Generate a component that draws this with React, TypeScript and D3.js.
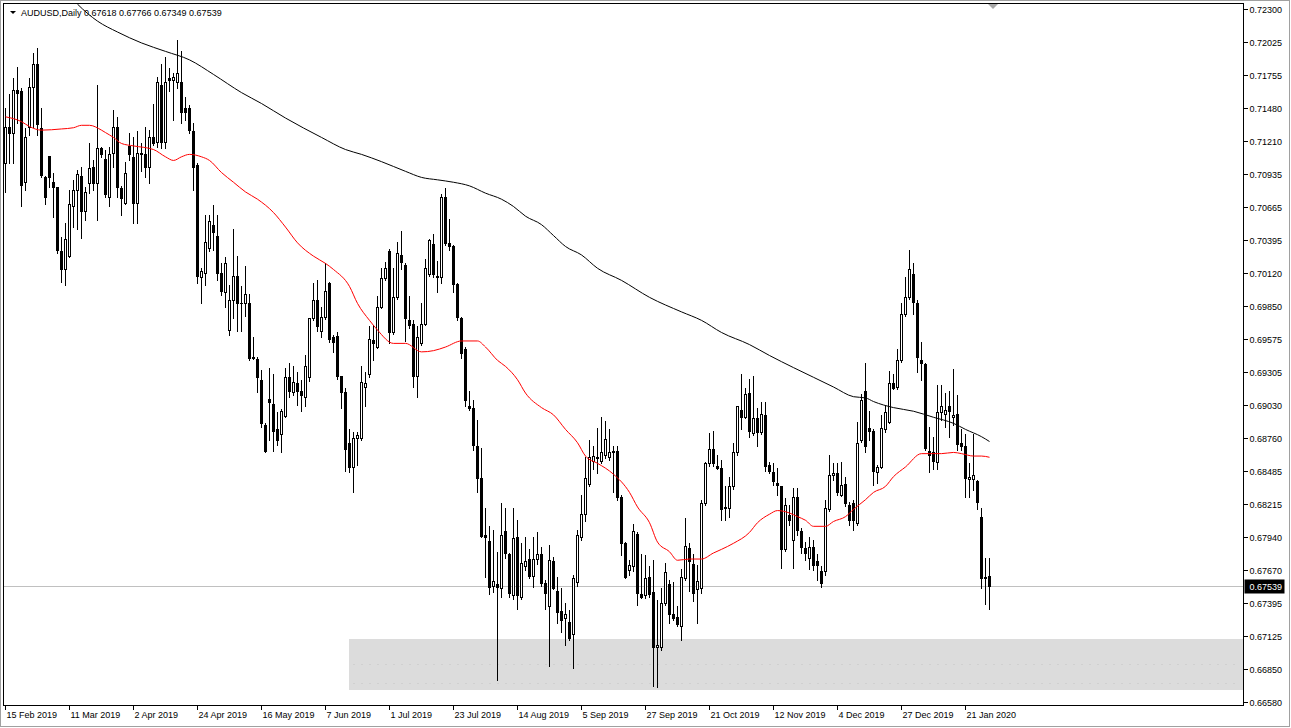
import { useEffect, useRef } from "react";
import * as d3 from "d3";

// AUDUSD daily candles, [open, high, low, close], one per trading day from 15 Feb 2019
const candles: [number, number, number, number][] = [
  [0.7103, 0.7148, 0.7079, 0.7133], [0.7133, 0.7160, 0.7103, 0.7128], [0.7128, 0.7173, 0.7103, 0.7163], [0.7163, 0.7182, 0.7136, 0.7161],
  [0.7162, 0.7165, 0.7067, 0.7085], [0.7087, 0.7132, 0.7081, 0.7124], [0.7133, 0.7173, 0.7126, 0.7166], [0.7166, 0.7194, 0.7133, 0.7185],
  [0.7185, 0.7198, 0.7126, 0.7135], [0.7132, 0.7148, 0.7091, 0.7093], [0.7091, 0.7092, 0.7069, 0.7075], [0.7109, 0.7109, 0.7083, 0.7091],
  [0.7087, 0.7095, 0.7058, 0.7083], [0.7083, 0.7083, 0.7029, 0.7031], [0.7030, 0.7042, 0.7005, 0.7015], [0.7015, 0.7053, 0.7002, 0.7040],
  [0.7026, 0.7081, 0.7025, 0.7069], [0.7067, 0.7089, 0.7050, 0.7081], [0.7081, 0.7097, 0.7048, 0.7094], [0.7092, 0.7100, 0.7041, 0.7063],
  [0.7063, 0.7083, 0.7056, 0.7079], [0.7086, 0.7119, 0.7078, 0.7099], [0.7100, 0.7105, 0.7081, 0.7086], [0.7086, 0.7167, 0.7056, 0.7115],
  [0.7115, 0.7116, 0.7108, 0.7110], [0.7106, 0.7114, 0.7075, 0.7077], [0.7075, 0.7116, 0.7067, 0.7110], [0.7111, 0.7147, 0.7100, 0.7133],
  [0.7133, 0.7141, 0.7075, 0.7083], [0.7082, 0.7084, 0.7060, 0.7074], [0.7070, 0.7104, 0.7069, 0.7095], [0.7117, 0.7128, 0.7105, 0.7110],
  [0.7108, 0.7124, 0.7053, 0.7070], [0.7070, 0.7129, 0.7053, 0.7111], [0.7111, 0.7119, 0.7096, 0.7110], [0.7110, 0.7133, 0.7091, 0.7100],
  [0.7100, 0.7130, 0.7086, 0.7124], [0.7124, 0.7152, 0.7118, 0.7119], [0.7120, 0.7174, 0.7116, 0.7170], [0.7167, 0.7185, 0.7115, 0.7120],
  [0.7120, 0.7190, 0.7115, 0.7170], [0.7173, 0.7181, 0.7162, 0.7171], [0.7171, 0.7177, 0.7138, 0.7174], [0.7170, 0.7204, 0.7165, 0.7177],
  [0.7170, 0.7195, 0.7136, 0.7145], [0.7148, 0.7157, 0.7138, 0.7145], [0.7148, 0.7151, 0.7128, 0.7130], [0.7129, 0.7136, 0.7081, 0.7100],
  [0.7101, 0.7103, 0.7004, 0.7010], [0.7009, 0.7016, 0.6987, 0.7014], [0.7012, 0.7060, 0.7002, 0.7038], [0.7033, 0.7060, 0.7030, 0.7055],
  [0.7052, 0.7068, 0.7031, 0.7046], [0.7043, 0.7060, 0.7006, 0.7012], [0.7012, 0.7020, 0.6994, 0.6997], [0.6996, 0.7025, 0.6984, 0.7020],
  [0.6965, 0.7002, 0.6961, 0.6990], [0.6990, 0.7048, 0.6975, 0.7010], [0.7010, 0.7026, 0.6964, 0.6987], [0.6987, 0.7001, 0.6964, 0.6987],
  [0.6987, 0.7018, 0.6977, 0.6995], [0.6987, 0.6995, 0.6940, 0.6942], [0.6943, 0.6959, 0.6941, 0.6942], [0.6941, 0.6943, 0.6914, 0.6926],
  [0.6924, 0.6932, 0.6885, 0.6888], [0.6887, 0.6888, 0.6864, 0.6865], [0.6908, 0.6934, 0.6874, 0.6906], [0.6904, 0.6929, 0.6865, 0.6882],
  [0.6883, 0.6897, 0.6870, 0.6874], [0.6879, 0.6900, 0.6864, 0.6898], [0.6894, 0.6934, 0.6893, 0.6926], [0.6926, 0.6938, 0.6910, 0.6915],
  [0.6914, 0.6935, 0.6911, 0.6922], [0.6921, 0.6930, 0.6903, 0.6915], [0.6915, 0.6924, 0.6898, 0.6911], [0.6910, 0.6944, 0.6902, 0.6935],
  [0.6926, 0.6975, 0.6923, 0.6975], [0.6975, 0.7004, 0.6973, 0.6990], [0.6990, 0.7006, 0.6964, 0.6968], [0.6964, 0.6984, 0.6959, 0.6976],
  [0.6976, 0.7020, 0.6974, 0.6997], [0.7004, 0.7005, 0.6955, 0.6958], [0.6959, 0.6961, 0.6947, 0.6955], [0.6960, 0.6963, 0.6925, 0.6927],
  [0.6927, 0.6927, 0.6901, 0.6914], [0.6914, 0.6917, 0.6849, 0.6867], [0.6872, 0.6883, 0.6848, 0.6852], [0.6852, 0.6881, 0.6831, 0.6876],
  [0.6876, 0.6881, 0.6854, 0.6878], [0.6876, 0.6935, 0.6874, 0.6922], [0.6918, 0.6930, 0.6902, 0.6921], [0.6929, 0.6968, 0.6926, 0.6958],
  [0.6957, 0.6969, 0.6940, 0.6954], [0.6951, 0.6993, 0.6950, 0.6984], [0.6984, 0.7016, 0.6983, 0.7008], [0.7008, 0.7021, 0.7006, 0.7016],
  [0.7030, 0.7032, 0.6954, 0.6963], [0.6963, 0.7016, 0.6962, 0.6992], [0.6992, 0.7038, 0.6991, 0.7029], [0.7027, 0.7047, 0.7015, 0.7021],
  [0.7019, 0.7020, 0.6956, 0.6975], [0.6973, 0.6993, 0.6967, 0.6969], [0.6970, 0.6973, 0.6918, 0.6927], [0.6927, 0.6968, 0.6910, 0.6959],
  [0.6954, 0.6987, 0.6953, 0.6970], [0.6970, 0.7024, 0.6969, 0.7016], [0.7011, 0.7040, 0.7010, 0.7039], [0.7036, 0.7044, 0.7009, 0.7011],
  [0.7010, 0.7022, 0.6996, 0.7009], [0.7009, 0.7077, 0.7004, 0.7075], [0.7075, 0.7082, 0.7035, 0.7037], [0.7037, 0.7057, 0.7031, 0.7034],
  [0.7034, 0.7035, 0.6996, 0.7003], [0.7003, 0.7004, 0.6973, 0.6976], [0.6975, 0.6976, 0.6942, 0.6946], [0.6949, 0.6951, 0.6902, 0.6907],
  [0.6902, 0.6915, 0.6899, 0.6901], [0.6901, 0.6907, 0.6866, 0.6870], [0.6869, 0.6891, 0.6831, 0.6843], [0.6843, 0.6868, 0.6794, 0.6795],
  [0.6796, 0.6818, 0.6761, 0.6794], [0.6791, 0.6803, 0.6747, 0.6753], [0.6754, 0.6800, 0.6749, 0.6758], [0.6755, 0.6782, 0.6676, 0.6753],
  [0.6752, 0.6822, 0.6745, 0.6796], [0.6799, 0.6818, 0.6777, 0.6781], [0.6780, 0.6781, 0.6745, 0.6748], [0.6746, 0.6818, 0.6743, 0.6793],
  [0.6794, 0.6808, 0.6735, 0.6746], [0.6745, 0.6789, 0.6743, 0.6773], [0.6770, 0.6794, 0.6767, 0.6774], [0.6776, 0.6784, 0.6760, 0.6762],
  [0.6762, 0.6794, 0.6753, 0.6776], [0.6776, 0.6798, 0.6772, 0.6780], [0.6780, 0.6786, 0.6754, 0.6756], [0.6756, 0.6759, 0.6735, 0.6748],
  [0.6737, 0.6788, 0.6688, 0.6775], [0.6774, 0.6778, 0.6751, 0.6752], [0.6750, 0.6761, 0.6723, 0.6732], [0.6733, 0.6752, 0.6716, 0.6726],
  [0.6727, 0.6740, 0.6705, 0.6731], [0.6724, 0.6734, 0.6709, 0.6711], [0.6714, 0.6763, 0.6686, 0.6760], [0.6757, 0.6800, 0.6754, 0.6796],
  [0.6794, 0.6829, 0.6792, 0.6813], [0.6813, 0.6860, 0.6807, 0.6843], [0.6838, 0.6874, 0.6836, 0.6860], [0.6857, 0.6869, 0.6850, 0.6861],
  [0.6860, 0.6884, 0.6847, 0.6859], [0.6857, 0.6893, 0.6855, 0.6864], [0.6862, 0.6890, 0.6859, 0.6875], [0.6860, 0.6883, 0.6858, 0.6864],
  [0.6864, 0.6869, 0.6831, 0.6865], [0.6865, 0.6869, 0.6825, 0.6827], [0.6827, 0.6829, 0.6779, 0.6789], [0.6789, 0.6790, 0.6760, 0.6761],
  [0.6767, 0.6775, 0.6763, 0.6771], [0.6770, 0.6805, 0.6766, 0.6799], [0.6797, 0.6798, 0.6738, 0.6748], [0.6747, 0.6780, 0.6744, 0.6745],
  [0.6746, 0.6779, 0.6744, 0.6760], [0.6761, 0.6770, 0.6745, 0.6747], [0.6749, 0.6775, 0.6671, 0.6703], [0.6703, 0.6742, 0.6670, 0.6705],
  [0.6703, 0.6752, 0.6701, 0.6740], [0.6740, 0.6773, 0.6738, 0.6765], [0.6755, 0.6759, 0.6723, 0.6731], [0.6731, 0.6757, 0.6726, 0.6727],
  [0.6728, 0.6737, 0.6721, 0.6722], [0.6721, 0.6768, 0.6709, 0.6761], [0.6760, 0.6810, 0.6759, 0.6787], [0.6785, 0.6789, 0.6750, 0.6774],
  [0.6772, 0.6780, 0.6741, 0.6748], [0.6751, 0.6771, 0.6723, 0.6758], [0.6752, 0.6825, 0.6748, 0.6822], [0.6822, 0.6856, 0.6821, 0.6855],
  [0.6855, 0.6880, 0.6853, 0.6867], [0.6867, 0.6882, 0.6853, 0.6855], [0.6853, 0.6862, 0.6850, 0.6851], [0.6851, 0.6858, 0.6808, 0.6817],
  [0.6818, 0.6836, 0.6808, 0.6819], [0.6818, 0.6844, 0.6811, 0.6836], [0.6836, 0.6872, 0.6834, 0.6864], [0.6864, 0.6902, 0.6862, 0.6902],
  [0.6899, 0.6929, 0.6883, 0.6893], [0.6893, 0.6917, 0.6892, 0.6912], [0.6913, 0.6925, 0.6877, 0.6882], [0.6880, 0.6927, 0.6878, 0.6892],
  [0.6892, 0.6901, 0.6869, 0.6881], [0.6881, 0.6906, 0.6879, 0.6896], [0.6895, 0.6906, 0.6849, 0.6853], [0.6854, 0.6856, 0.6847, 0.6849],
  [0.6848, 0.6855, 0.6837, 0.6840], [0.6839, 0.6851, 0.6829, 0.6837], [0.6836, 0.6836, 0.6769, 0.6784], [0.6784, 0.6826, 0.6783, 0.6821],
  [0.6812, 0.6821, 0.6804, 0.6808], [0.6792, 0.6835, 0.6769, 0.6827], [0.6827, 0.6835, 0.6796, 0.6800], [0.6799, 0.6802, 0.6781, 0.6786],
  [0.6785, 0.6790, 0.6775, 0.6781], [0.6777, 0.6794, 0.6768, 0.6786], [0.6786, 0.6792, 0.6767, 0.6771], [0.6774, 0.6780, 0.6759, 0.6771],
  [0.6766, 0.6770, 0.6753, 0.6756], [0.6766, 0.6825, 0.6763, 0.6818], [0.6817, 0.6862, 0.6816, 0.6845], [0.6845, 0.6855, 0.6841, 0.6847],
  [0.6847, 0.6855, 0.6829, 0.6831], [0.6829, 0.6856, 0.6828, 0.6837], [0.6838, 0.6844, 0.6820, 0.6822], [0.6821, 0.6823, 0.6804, 0.6808],
  [0.6822, 0.6825, 0.6800, 0.6808], [0.6806, 0.6889, 0.6804, 0.6872], [0.6874, 0.6912, 0.6873, 0.6907], [0.6915, 0.6938, 0.6864, 0.6869],
  [0.6884, 0.6898, 0.6874, 0.6882], [0.6882, 0.6883, 0.6837, 0.6849], [0.6848, 0.6854, 0.6839, 0.6852], [0.6852, 0.6895, 0.6851, 0.6884],
  [0.6883, 0.6902, 0.6881, 0.6897], [0.6889, 0.6931, 0.6888, 0.6921], [0.6921, 0.6929, 0.6916, 0.6917], [0.6918, 0.6949, 0.6916, 0.6940],
  [0.6940, 0.6987, 0.6939, 0.6978], [0.6978, 0.7009, 0.6977, 0.6992], [0.6992, 0.7031, 0.6991, 0.7015], [0.7011, 0.7020, 0.6978, 0.6988],
  [0.6987, 0.6990, 0.6930, 0.6943], [0.6940, 0.6955, 0.6924, 0.6938], [0.6937, 0.6938, 0.6866, 0.6868], [0.6865, 0.6885, 0.6848, 0.6862],
  [0.6864, 0.6877, 0.6850, 0.6857], [0.6856, 0.6920, 0.6850, 0.6897], [0.6897, 0.6920, 0.6891, 0.6902], [0.6896, 0.6913, 0.6885, 0.6899],
  [0.6902, 0.6915, 0.6877, 0.6898], [0.6893, 0.6933, 0.6887, 0.6895], [0.6896, 0.6911, 0.6866, 0.6871], [0.6872, 0.6883, 0.6866, 0.6869],
  [0.6869, 0.6879, 0.6827, 0.6843], [0.6842, 0.6855, 0.6827, 0.6844], [0.6842, 0.6879, 0.6833, 0.6845], [0.6840, 0.6841, 0.6817, 0.6823],
  [0.6811, 0.6818, 0.6752, 0.6760], [0.6760, 0.6777, 0.6739, 0.6761], [0.67618, 0.67766, 0.67349, 0.67539],
];

// moving averages: [bar index, price]
const maRed: [number, number][] = [
  [0, 0.7141], [4, 0.7137], [6, 0.7133], [9, 0.7130], [14, 0.7131], [17, 0.7132], [19, 0.7134], [21, 0.7134],
  [24, 0.7130], [25, 0.7128], [27, 0.7124], [29, 0.7119], [32, 0.7117], [37, 0.7114], [40, 0.7108], [42, 0.7105],
  [44, 0.7108], [46, 0.7110], [49, 0.7108], [51, 0.7105], [54, 0.7095], [57, 0.7087], [60, 0.7079], [63, 0.7073],
  [67, 0.7062], [70, 0.7050], [73, 0.7037], [77, 0.7026], [80, 0.7020], [82, 0.7015], [86, 0.7001], [88, 0.6987],
  [91, 0.6973], [93, 0.6965], [97, 0.6954], [100, 0.6954], [104, 0.6947], [107, 0.6948], [110, 0.6951], [114, 0.6956],
  [118, 0.6956], [120, 0.6951], [123, 0.6940], [125, 0.6935], [128, 0.6924], [130, 0.6913], [134, 0.6901], [137, 0.6895],
  [140, 0.6883], [143, 0.6872], [145, 0.6861], [148, 0.6855], [150, 0.6851], [152, 0.6846], [156, 0.6831], [158, 0.6819],
  [161, 0.6806], [163, 0.6790], [166, 0.6782], [168, 0.6775], [171, 0.6776], [174, 0.6776], [177, 0.6781], [179, 0.6784],
  [182, 0.6789], [186, 0.6798], [188, 0.6806], [191, 0.6813], [193, 0.6816], [196, 0.6814], [198, 0.6811], [200, 0.6808],
  [202, 0.6803], [205, 0.6803], [207, 0.6807], [210, 0.6811], [212, 0.6817], [215, 0.6825], [217, 0.6831], [220, 0.6836],
  [222, 0.6844], [225, 0.6852], [229, 0.6863], [234, 0.6863], [237, 0.6864], [239, 0.6863], [242, 0.6861], [244, 0.6861],
  [246, 0.6860],
];

const maBlack: [number, number][] = [
  [16, 0.7241], [18, 0.7234], [23, 0.7220], [28, 0.7211], [34, 0.7202], [40, 0.7195], [46, 0.7188], [52, 0.7176],
  [59, 0.7161], [64, 0.7152], [70, 0.7140], [79, 0.7124], [85, 0.7114], [89, 0.7110], [94, 0.7104], [100, 0.7096],
  [104, 0.7091], [108, 0.7089], [112, 0.7087], [116, 0.7084], [120, 0.7078], [124, 0.7073], [127, 0.7067], [130, 0.7059],
  [134, 0.7052], [137, 0.7043], [140, 0.7034], [144, 0.7027], [148, 0.7016], [154, 0.7006], [161, 0.6992], [169, 0.6980],
  [174, 0.6973], [179, 0.6963], [186, 0.6953], [191, 0.6944], [197, 0.6934], [202, 0.6926], [207, 0.6918], [212, 0.6910],
  [215, 0.6909], [217, 0.6906], [222, 0.6901], [227, 0.6898], [232, 0.6893], [237, 0.6888], [240, 0.6883], [244, 0.6877],
  [246, 0.6873],
];

const priceTicks = [
  0.723, 0.72025, 0.71755, 0.7148, 0.7121, 0.70935, 0.70665, 0.70395, 0.7012, 0.6985, 0.69575,
  0.69305, 0.6903, 0.6876, 0.68485, 0.68215, 0.6794, 0.6767, 0.67395, 0.67125, 0.6685, 0.6658,
];

const dateTicks = [
  "15 Feb 2019", "11 Mar 2019", "2 Apr 2019", "24 Apr 2019", "16 May 2019", "7 Jun 2019", "1 Jul 2019", "23 Jul 2019",
  "14 Aug 2019", "5 Sep 2019", "27 Sep 2019", "21 Oct 2019", "12 Nov 2019", "4 Dec 2019", "27 Dec 2019", "21 Jan 2020",
];
const barsPerDateTick = 16;

// support zone (grey rectangle) and its faint dotted levels
const zoneStartBar = 86;
const zoneTop = 0.6710;
const zoneBottom = 0.6668;
const zoneDots = [0.6689, 0.6674];

const symbol = "AUDUSD,Daily";

export default function App() {
  const svgRef = useRef<SVGSVGElement>(null);

  useEffect(() => {
    if (!svgRef.current) return;
    const svg = d3.select(svgRef.current);
    svg.selectAll("*").remove();

    const W = 1291;
    const H = 728;
    const plot = { left: 3.5, top: 3.5, right: 1243.5, bottom: 705.5 };
    const font = "Tahoma, 'Liberation Sans', Arial, sans-serif";

    const x = d3.scaleLinear().domain([0, candles.length - 1]).range([5.5, 5.5 + 4 * (candles.length - 1)]);
    const y = d3.scaleLinear().domain([0.6658, 0.723]).range([702, 9]);

    svg.append("rect").attr("width", W).attr("height", H).attr("fill", "#fff");

    svg.append("defs").append("clipPath").attr("id", "plotClip")
      .append("rect")
      .attr("x", plot.left + 0.5).attr("y", plot.top + 0.5)
      .attr("width", plot.right - plot.left - 1).attr("height", plot.bottom - plot.top - 1);

    const g = svg.append("g").attr("clip-path", "url(#plotClip)");

    // ── grey zone ────────────────────────────────────────────
    g.append("rect")
      .attr("x", x(zoneStartBar) - 0.5)
      .attr("y", Math.round(y(zoneTop)))
      .attr("width", plot.right - (x(zoneStartBar) - 0.5))
      .attr("height", Math.round(y(zoneBottom)) - Math.round(y(zoneTop)))
      .attr("fill", "#dcdcdc");

    zoneDots.forEach((p) => {
      g.append("line")
        .attr("x1", x(zoneStartBar) + 4).attr("x2", plot.right - 8)
        .attr("y1", Math.round(y(p)) + 0.5).attr("y2", Math.round(y(p)) + 0.5)
        .attr("stroke", "#c4c4c4").attr("stroke-dasharray", "1,7");
    });

    // ── bid line ─────────────────────────────────────────────
    const last = candles[candles.length - 1];
    const bidY = Math.round(y(last[3])) + 0.5;
    g.append("line")
      .attr("x1", plot.left).attr("x2", plot.right)
      .attr("y1", bidY).attr("y2", bidY)
      .attr("stroke", "#c0c0c0").attr("stroke-width", 1);

    // ── candles ──────────────────────────────────────────────
    const cg = g.append("g").attr("shape-rendering", "crispEdges");
    candles.forEach(([o, h, l, c], i) => {
      const cx = x(i);
      const hi = Math.round(y(Math.max(h, o, c)));
      const lo = Math.round(y(Math.min(l, o, c)));
      const top = Math.round(y(Math.max(o, c)));
      const bot = Math.round(y(Math.min(o, c)));
      cg.append("rect")
        .attr("x", cx - 0.5).attr("y", hi)
        .attr("width", 1).attr("height", lo - hi + 1)
        .attr("fill", "#000");
      cg.append("rect")
        .attr("x", cx - 1.5).attr("y", top)
        .attr("width", 3).attr("height", Math.max(1, bot - top + 1))
        .attr("fill", "#000");
      if (c > o && bot - top > 1) {
        cg.append("rect")
          .attr("x", cx - 0.5).attr("y", top + 1)
          .attr("width", 1).attr("height", bot - top - 1)
          .attr("fill", "#fff");
      }
    });

    // ── moving averages ──────────────────────────────────────
    const line = d3.line<[number, number]>()
      .x((d) => x(d[0]))
      .y((d) => y(d[1]))
      .curve(d3.curveMonotoneX);

    g.append("path")
      .datum(maBlack)
      .attr("d", line)
      .attr("fill", "none").attr("stroke", "#000").attr("stroke-width", 1);

    g.append("path")
      .datum(maRed)
      .attr("d", line)
      .attr("fill", "none").attr("stroke", "#ff0000").attr("stroke-width", 1);

    // ── frame ────────────────────────────────────────────────
    svg.append("rect")
      .attr("x", 0.5).attr("y", 0.5).attr("width", W - 2).attr("height", H - 2)
      .attr("fill", "none").attr("stroke", "#a0a0a0");

    svg.append("rect")
      .attr("x", plot.left).attr("y", plot.top)
      .attr("width", plot.right - plot.left).attr("height", plot.bottom - plot.top)
      .attr("fill", "none").attr("stroke", "#000").attr("shape-rendering", "crispEdges");

    // shift marker
    svg.append("path")
      .attr("d", "M988,4 L998,4 L993,9 Z")
      .attr("fill", "#a8a8a8");

    // ── price axis ───────────────────────────────────────────
    priceTicks.forEach((p) => {
      const ty = Math.round(y(p)) + 0.5;
      svg.append("line")
        .attr("x1", plot.right).attr("x2", plot.right + 4)
        .attr("y1", ty).attr("y2", ty)
        .attr("stroke", "#000").attr("shape-rendering", "crispEdges");
      svg.append("text")
        .attr("x", plot.right + 6).attr("y", ty)
        .attr("dominant-baseline", "central")
        .attr("font-family", font).attr("font-size", 9)
        .attr("fill", "#000")
        .text(p.toFixed(5));
    });

    // bid label
    svg.append("rect")
      .attr("x", plot.right + 1).attr("y", bidY - 7)
      .attr("width", 40).attr("height", 14)
      .attr("fill", "#000");
    svg.append("text")
      .attr("x", plot.right + 6).attr("y", bidY)
      .attr("dominant-baseline", "central")
      .attr("font-family", font).attr("font-size", 9)
      .attr("fill", "#fff")
      .text(last[3].toFixed(5));

    // ── date axis ────────────────────────────────────────────
    dateTicks.forEach((label, i) => {
      const tx = x(i * barsPerDateTick);
      svg.append("line")
        .attr("x1", tx).attr("x2", tx)
        .attr("y1", plot.bottom).attr("y2", plot.bottom + 4)
        .attr("stroke", "#000").attr("shape-rendering", "crispEdges");
      svg.append("text")
        .attr("x", tx + 1).attr("y", 718)
        .attr("font-family", font).attr("font-size", 9)
        .attr("fill", "#000")
        .text(label);
    });

    // ── header ───────────────────────────────────────────────
    svg.append("path").attr("d", "M10,11 L16,11 L13,14 Z").attr("fill", "#000");
    svg.append("text")
      .attr("x", 21).attr("y", 16)
      .attr("font-family", font).attr("font-size", 9)
      .attr("fill", "#000")
      .text(`${symbol}  ${last.map((v) => v.toFixed(5)).join(" ")}`.replace(/(\d)\s(\d)/g, "$1 $2"));
  }, []);

  return (
    <svg
      ref={svgRef}
      width={1291}
      height={728}
      style={{ position: "absolute", left: 0, top: 0, display: "block" }}
    />
  );
}
